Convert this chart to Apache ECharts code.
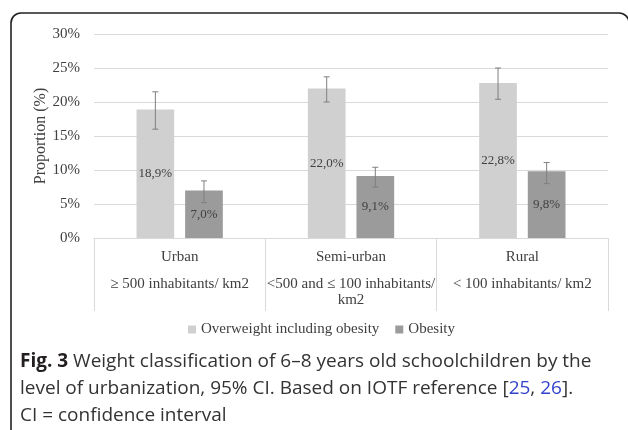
<!DOCTYPE html>
<html>
<head>
<meta charset="utf-8">
<script src="https://cdn.jsdelivr.net/npm/echarts@6/dist/echarts.min.js"></script>
<style>
  html, body { margin: 0; padding: 0; background: #fff; }
  #chart { width: 628px; height: 430px; }
</style>
</head>
<body>
<div id="chart"></div>
<script>
// urbanization levels
const categories = ['Urban', 'Semi-urban', 'Rural'];
const densities = ['≥ 500 inhabitants/ km2', '<500 and ≤ 100 inhabitants/\nkm2', '< 100 inhabitants/ km2'];

// proportions (%) with 95% CI
const overweight = [18.9, 22.0, 22.8];
const overweightLow = [16.0, 20.0, 20.4];
const overweightHigh = [21.5, 23.7, 25.0];
const obesity = [7.0, 9.1, 9.8];
const obesityLow = [5.2, 7.5, 8.0];
const obesityHigh = [8.4, 10.4, 11.1];

const serif = '"Liberation Serif", "Times New Roman", serif';
const BAR_W = 0.22;
const BAR_GAP = 0.29;

function errorBar(sign) {
  return function (params, api) {
    const i = api.value(0);
    const lo = api.coord([i, api.value(1)]);
    const hi = api.coord([i, api.value(2)]);
    const band = api.size([1, 0])[0];
    const w = band * BAR_W;
    const x = lo[0] + sign * w * (1 + BAR_GAP) / 2;
    const st = { stroke: '#7f7f7f', lineWidth: 1 };
    return {
      type: 'group',
      children: [
        { type: 'line', shape: { x1: x, y1: lo[1], x2: x, y2: hi[1] }, style: st },
        { type: 'line', shape: { x1: x - 3, y1: lo[1], x2: x + 3, y2: lo[1] }, style: st },
        { type: 'line', shape: { x1: x - 3, y1: hi[1], x2: x + 3, y2: hi[1] }, style: st }
      ]
    };
  };
}

const pct = p => p.value.toFixed(1).replace('.', ',') + '%';

const chart = echarts.init(document.getElementById('chart'));
chart.setOption({
  animation: false,
  grid: { left: 94, right: 20, top: 34, bottom: 192 },
  legend: {
    data: ['Overweight including obesity', 'Obesity'],
    left: 183, top: 317,
    itemWidth: 8, itemHeight: 8, itemGap: 16,
    icon: 'rect',
    textStyle: { fontFamily: serif, fontSize: 15, color: '#404040' }
  },
  xAxis: {
    type: 'category',
    data: categories.map((c, i) => c + '\n' + densities[i]),
    axisLine: { lineStyle: { color: '#d9d9d9' } },
    axisTick: { show: true, interval: 0, length: 73, lineStyle: { color: '#d9d9d9' } },
    axisLabel: {
      interval: 0, margin: 0,
      fontFamily: serif, fontSize: 15, color: '#404040',
      formatter: function (v) {
        const parts = v.split('\n');
        return '{c|' + parts[0] + '}\n{d|' + parts.slice(1).join('}\n{d|') + '}';
      },
      rich: {
        c: { fontFamily: serif, fontSize: 15, color: '#404040', lineHeight: 38 },
        d: { fontFamily: serif, fontSize: 15, color: '#404040', lineHeight: 16 }
      }
    }
  },
  yAxis: {
    type: 'value', min: 0, max: 30, interval: 5,
    name: 'Proportion (%)', nameLocation: 'middle', nameRotate: 90, nameGap: 45,
    nameMoveOverlap: false,
    nameTextStyle: { fontFamily: serif, fontSize: 16, color: '#404040' },
    axisLabel: { formatter: '{value}%', margin: 14, fontFamily: serif, fontSize: 15, color: '#404040' },
    splitLine: { lineStyle: { color: '#d9d9d9' } }
  },
  series: [
    {
      name: 'Overweight including obesity', type: 'bar', data: overweight,
      barWidth: (BAR_W * 100) + '%', barGap: (BAR_GAP * 100) + '%',
      itemStyle: { color: '#d0d0d0' },
      label: { show: true, position: 'inside', formatter: pct, fontFamily: serif, fontSize: 13, color: '#404040' }
    },
    {
      name: 'Obesity', type: 'bar', data: obesity,
      barWidth: (BAR_W * 100) + '%',
      itemStyle: { color: '#9b9b9b' },
      label: { show: true, position: 'inside', formatter: pct, fontFamily: serif, fontSize: 13, color: '#404040' }
    },
    {
      type: 'custom', renderItem: errorBar(-1), z: 5,
      data: categories.map((c, i) => [i, overweightLow[i], overweightHigh[i]])
    },
    {
      type: 'custom', renderItem: errorBar(1), z: 5,
      data: categories.map((c, i) => [i, obesityLow[i], obesityHigh[i]])
    }
  ],
  graphic: [
    {
      type: 'rect', z: -1,
      shape: { x: 11, y: 13, width: 618, height: 500, r: 10 },
      style: { fill: 'none', stroke: '#222', lineWidth: 1.6 }
    },
    {
      type: 'text', left: 20, top: 348,
      style: {
        text: '{b|Fig. 3} Weight classification of 6–8 years old schoolchildren by the\nlevel of urbanization, 95% CI. Based on IOTF reference [{l|25}, {l|26}].\nCI = confidence interval',
        font: '19px "Open Sans", sans-serif',
        fill: '#333',
        lineHeight: 27,
        rich: {
          b: { fontFamily: '"Open Sans", sans-serif', fontSize: 19, fontWeight: 'bold', fill: '#231f20', lineHeight: 27 },
          l: { fontFamily: '"Open Sans", sans-serif', fontSize: 19, fill: '#3344cc', lineHeight: 27 }
        }
      }
    }
  ]
});
</script>
</body>
</html>
